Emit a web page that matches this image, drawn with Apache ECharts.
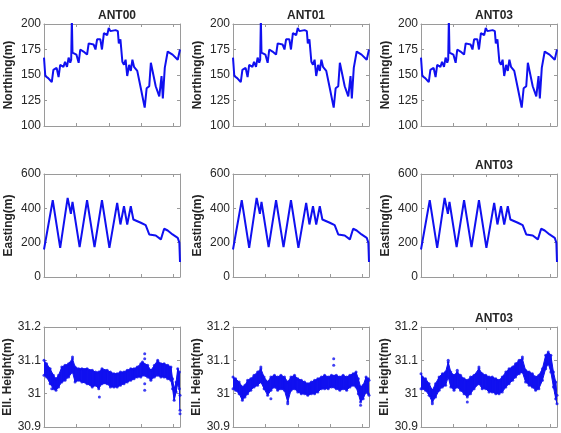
<!DOCTYPE html>
<html>
<head>
<meta charset="utf-8">
<script src="https://cdn.jsdelivr.net/npm/echarts@6/dist/echarts.min.js"></script>
<style>
  html, body { margin: 0; padding: 0; background: #fff; }
  #chart { width: 561px; height: 433px; }
</style>
</head>
<body>
<div id="chart"></div>
<script>
// panel titles per row / column ('' = none)
const titles = [['ANT00', 'ANT01', 'ANT03'], ['', '', 'ANT03'], ['', '', 'ANT03']]
const rowNames = ['Northing(m)', 'Easting(m)', 'Ell. Height(m)']
const yMin = [100, 0, 30.9]
const yMax = [200, 600, 31.2]
const yStep = [25, 200, 0.1]

// time axis (no labels in the figure)
const tMax = 4.2

// Northing, same track for all antennas
const northT = [0, 0.04, 0.13, 0.24, 0.29, 0.39, 0.45, 0.50, 0.60, 0.65, 0.71, 0.76, 0.81, 0.84, 0.86, 0.88, 0.91, 1.00, 1.07, 1.12, 1.22, 1.33, 1.38, 1.53, 1.59, 1.64, 1.74, 1.79, 1.85, 1.95, 2.00, 2.05, 2.11, 2.21, 2.28, 2.31, 2.36, 2.42, 2.47, 2.52, 2.57, 2.63, 2.68, 2.73, 2.78, 2.88, 2.99, 3.11, 3.17, 3.25, 3.30, 3.45, 3.56, 3.63, 3.67, 3.73, 3.82, 3.97, 4.13, 4.2]
const northV = [167, 149, 147, 143, 155, 157, 148, 160, 158, 163, 158, 167, 162, 165, 205, 172, 171, 170, 162, 175, 173, 170, 181, 180, 175, 185, 185, 175, 191, 189, 196, 193, 194, 194, 193, 181, 185, 163, 160, 165, 149, 160, 154, 165, 158, 154, 137, 118, 137, 139, 162, 139, 129, 149, 127, 157, 173, 170, 165, 175]

// Easting
const eastT = [0, 0.27, 0.50, 0.73, 0.83, 0.88, 1.10, 1.33, 1.56, 1.79, 2.02, 2.26, 2.36, 2.47, 2.57, 2.68, 2.76, 2.99, 3.14, 3.25, 3.45, 3.61, 3.71, 3.82, 3.97, 4.13, 4.18, 4.2]
const eastV = [160, 447, 170, 461, 368, 437, 174, 447, 174, 447, 170, 432, 306, 412, 306, 412, 335, 316, 302, 248, 242, 219, 281, 271, 248, 228, 200, 87]

// Ellipsoidal height: upper / lower edge of the point cloud
const h0T = [0, 0.08, 0.19, 0.29, 0.37, 0.45, 0.55, 0.65, 0.76, 0.88, 0.96, 1.07, 1.17, 1.33, 1.49, 1.59, 1.69, 1.79, 1.95, 2.05, 2.16, 2.26, 2.36, 2.47, 2.57, 2.68, 2.78, 2.88, 2.99, 3.04, 3.20, 3.30, 3.41, 3.51, 3.61, 3.71, 3.82, 3.92, 3.97, 4.02, 4.08, 4.13, 4.18, 4.2]
const h0Hi = [31.100, 31.090, 31.075, 31.055, 31.045, 31.055, 31.080, 31.085, 31.090, 31.105, 31.080, 31.075, 31.075, 31.075, 31.070, 31.065, 31.065, 31.075, 31.070, 31.065, 31.060, 31.060, 31.065, 31.065, 31.070, 31.075, 31.075, 31.080, 31.090, 31.095, 31.085, 31.070, 31.085, 31.100, 31.090, 31.090, 31.085, 31.080, 31.045, 31.015, 31.035, 31.075, 31.065, 30.995]
const h0Lo = [31.055, 31.050, 31.030, 31.015, 31.010, 31.020, 31.035, 31.040, 31.050, 31.065, 31.035, 31.040, 31.035, 31.030, 31.020, 31.025, 31.015, 31.030, 31.030, 31.020, 31.020, 31.020, 31.025, 31.030, 31.035, 31.040, 31.045, 31.050, 31.050, 31.055, 31.050, 31.040, 31.050, 31.055, 31.050, 31.050, 31.045, 31.040, 31.015, 30.980, 31.005, 31.030, 31.015, 30.950]
const h0Out = [[3.11, 31.12], [3.11, 31.105], [3.11, 31.03], [3.11, 31.01], [1.71, 30.99], [4.2, 30.94], [0.88, 31.11], [0.24, 31.015]]

const h1T = [0, 0.08, 0.19, 0.29, 0.37, 0.45, 0.55, 0.65, 0.76, 0.86, 0.96, 1.07, 1.17, 1.28, 1.38, 1.48, 1.59, 1.69, 1.79, 1.90, 2.00, 2.11, 2.21, 2.31, 2.42, 2.52, 2.62, 2.73, 2.83, 2.94, 3.04, 3.19, 3.30, 3.40, 3.51, 3.61, 3.71, 3.80, 3.87, 3.94, 4.02, 4.11, 4.18, 4.2]
const h1Hi = [31.050, 31.045, 31.035, 31.020, 31.025, 31.040, 31.045, 31.055, 31.065, 31.075, 31.050, 31.035, 31.050, 31.055, 31.050, 31.055, 31.050, 31.035, 31.050, 31.055, 31.045, 31.040, 31.035, 31.030, 31.035, 31.040, 31.045, 31.050, 31.055, 31.050, 31.055, 31.055, 31.050, 31.055, 31.050, 31.055, 31.060, 31.065, 31.045, 31.020, 31.025, 31.050, 31.045, 31.040]
const h1Lo = [31.015, 31.010, 31.000, 30.980, 30.990, 31.000, 31.010, 31.020, 31.025, 31.035, 31.015, 30.995, 31.010, 31.020, 31.010, 31.015, 31.010, 30.975, 31.010, 31.015, 31.005, 31.000, 31.000, 30.995, 31.000, 31.000, 31.005, 31.015, 31.015, 31.015, 31.020, 31.015, 31.010, 31.015, 31.010, 31.020, 31.025, 31.020, 31.000, 30.975, 30.985, 31.005, 31.000, 30.995]
const h1Out = [[3.11, 31.105], [3.11, 31.085], [1.69, 30.97], [3.94, 30.965], [1.17, 30.985], [0.86, 31.08]]

const h3T = [0, 0.04, 0.14, 0.25, 0.35, 0.45, 0.56, 0.66, 0.76, 0.84, 0.92, 1.02, 1.12, 1.22, 1.33, 1.43, 1.53, 1.64, 1.79, 1.89, 2.00, 2.10, 2.20, 2.31, 2.41, 2.51, 2.62, 2.72, 2.83, 2.92, 3.03, 3.13, 3.23, 3.34, 3.44, 3.54, 3.64, 3.75, 3.85, 3.93, 4.01, 4.09, 4.16, 4.2]
const h3Hi = [31.060, 31.050, 31.045, 31.030, 31.010, 31.030, 31.050, 31.060, 31.065, 31.095, 31.065, 31.055, 31.065, 31.055, 31.045, 31.040, 31.050, 31.055, 31.075, 31.060, 31.055, 31.050, 31.050, 31.045, 31.040, 31.050, 31.065, 31.075, 31.080, 31.090, 31.100, 31.105, 31.070, 31.065, 31.060, 31.050, 31.055, 31.075, 31.115, 31.125, 31.115, 31.065, 31.035, 30.995]
const h3Lo = [31.015, 31.015, 31.010, 30.995, 30.975, 30.990, 31.010, 31.020, 31.025, 31.050, 31.020, 31.010, 31.020, 31.010, 31.000, 30.990, 31.000, 31.015, 31.030, 31.015, 31.015, 31.005, 31.005, 31.000, 31.000, 31.005, 31.020, 31.030, 31.040, 31.050, 31.060, 31.065, 31.035, 31.025, 31.020, 31.010, 31.015, 31.040, 31.075, 31.090, 31.065, 31.020, 30.985, 30.970]
const h3Out = [[0.84, 31.1], [1.12, 31.07], [1.43, 30.975], [1.79, 31.08], [3.13, 31.11], [0.35, 30.97]]

const BLUE = '#1010f0'
const AXIS = '#9a9a9a'
const TEXT = '#262626'

const colLeft = [44, 233, 421]
const rowTop = [24, 174, 327]
const rowH = [102, 103, 100]
const panelW = 136

const chartInstance = echarts.init(document.getElementById('chart'))

const zip = (t, v) => t.map((x, i) => [x, v[i]])

// polygon pieces between lower and upper edge
const bandData = (t, lo, hi) => {
  const out = []
  for (let i = 0; i < t.length - 1; i++) {
    out.push([t[i], lo[i], hi[i], t[i + 1], lo[i + 1], hi[i + 1]])
  }
  return out
}
const bandItem = (params, api) => {
  const a = api.coord([api.value(0), api.value(1)])
  const b = api.coord([api.value(0), api.value(2)])
  const c = api.coord([api.value(3), api.value(5)])
  const d = api.coord([api.value(3), api.value(4)])
  return {
    type: 'polygon',
    shape: { points: [a, b, c, d] },
    style: { fill: BLUE, stroke: BLUE, lineWidth: 1 }
  }
}

const heights = [[h0T, h0Lo, h0Hi, h0Out], [h1T, h1Lo, h1Hi, h1Out], [h3T, h3Lo, h3Hi, h3Out]]

const grid = [], xAxis = [], yAxis = [], series = [], title = []

for (let r = 0; r < 3; r++) {
  for (let c = 0; c < 3; c++) {
    const p = r * 3 + c
    grid.push({ left: colLeft[c], top: rowTop[r], width: panelW, height: rowH[r] })
    const tickStyle = { show: true, inside: true, length: 3, lineStyle: { color: AXIS } }
    const lineStyle = { show: true, onZero: false, lineStyle: { color: AXIS, width: 1 } }
    xAxis.push({
      type: 'value', gridIndex: p, min: 0, max: tMax, interval: 1,
      axisLine: lineStyle, axisTick: tickStyle, axisLabel: { show: false }, splitLine: { show: false }
    })
    xAxis.push({
      type: 'value', gridIndex: p, position: 'top', min: 0, max: tMax, interval: 1,
      axisLine: lineStyle, axisTick: tickStyle, axisLabel: { show: false }, splitLine: { show: false }
    })
    yAxis.push({
      type: 'value', gridIndex: p, min: yMin[r], max: yMax[r], interval: yStep[r],
      name: rowNames[r], nameLocation: 'middle', nameGap: 29,
      nameTextStyle: { color: TEXT, fontSize: 12, fontWeight: 'bold', fontFamily: 'Liberation Sans, Arial' },
      axisLine: lineStyle, axisTick: tickStyle, splitLine: { show: false },
      axisLabel: { color: TEXT, fontSize: 12, margin: 3, fontFamily: 'Liberation Sans, Arial', showMaxLabel: true, showMinLabel: true }
    })
    yAxis.push({
      type: 'value', gridIndex: p, position: 'right', min: yMin[r], max: yMax[r], interval: yStep[r],
      axisLine: lineStyle, axisTick: tickStyle, axisLabel: { show: false }, splitLine: { show: false }
    })

    if (titles[r][c]) {
      title.push({
        text: titles[r][c], left: colLeft[c] + panelW / 2, top: rowTop[r] - 19, textAlign: 'center',
        textStyle: { color: TEXT, fontSize: 12, fontWeight: 'bold', fontFamily: 'Liberation Sans, Arial' }
      })
    }

    const ax = { xAxisIndex: 2 * p, yAxisIndex: 2 * p }
    if (r === 0) {
      series.push({ type: 'line', ...ax, data: zip(northT, northV), symbol: 'none', lineStyle: { color: BLUE, width: 2 }, clip: true })
    } else if (r === 1) {
      series.push({ type: 'line', ...ax, data: zip(eastT, eastV), symbol: 'none', lineStyle: { color: BLUE, width: 2 }, clip: true })
    } else {
      const [t, lo, hi, outl] = heights[c]
      series.push({
        type: 'custom', ...ax, renderItem: bandItem, data: bandData(t, lo, hi),
        encode: { x: [0, 3], y: [1, 2, 4, 5] }, clip: true
      })
      series.push({
        type: 'scatter', ...ax, symbolSize: 3, itemStyle: { color: BLUE },
        data: zip(t, lo).concat(zip(t, hi)).concat(outl)
      })
    }
  }
}

chartInstance.setOption({
  animation: false,
  title: title,
  grid: grid,
  xAxis: xAxis,
  yAxis: yAxis,
  series: series
})
</script>
</body>
</html>
